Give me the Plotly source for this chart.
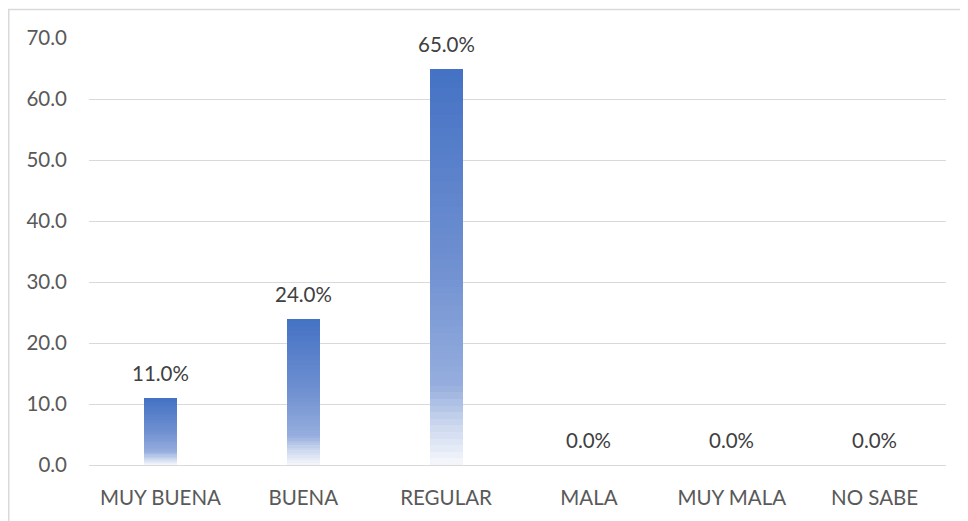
import plotly.graph_objects as go

categories = ["MUY BUENA", "BUENA", "REGULAR", "MALA", "MUY MALA", "NO SABE"]
values = [11.0, 24.0, 65.0, 0.0, 0.0, 0.0]
y_ticks = [0, 10, 20, 30, 40, 50, 60, 70]

# gradient stops (relative height from bottom -> rgb)
stops = [(0.0, (246, 248, 252)), (0.10, (205, 216, 238)), (0.2, (150, 174, 222)),
         (0.5, (112, 144, 209)), (1.0, (68, 114, 196))]

def col(t):
    for (t0, c0), (t1, c1) in zip(stops[:-1], stops[1:]):
        if t0 <= t <= t1:
            f = (t - t0) / (t1 - t0)
            return "rgb(%d,%d,%d)" % tuple(round(a + (b - a) * f) for a, b in zip(c0, c1))
    return "rgb(68,114,196)"

N = 60
fig = go.Figure()
for k in range(N):
    t = (k + 0.5) / N
    fig.add_trace(go.Bar(
        x=categories, y=[v / N for v in values],
        marker=dict(color=col(t), line=dict(width=0)),
        showlegend=False, hoverinfo="skip"))

for c, v in zip(categories, values):
    fig.add_annotation(x=c, y=v, text="%.1f%%" % v, showarrow=False,
                       yshift=25, font=dict(size=20.5, color="#404040"))

FONT = "Lato, Open Sans, sans-serif"
W, H = 968, 521
L, T, R, B = 81, 30, 30, 64
fig.update_layout(
    barmode="stack", bargap=0.77,
    width=W, height=H,
    margin=dict(l=L, r=R, t=T, b=B),
    paper_bgcolor="white", plot_bgcolor="white",
    font=dict(family=FONT, size=18, color="#595959"),
    xaxis=dict(showgrid=False, showline=False, ticks="", ticklabelstandoff=18,
               tickfont=dict(size=20.5, color="#595959")),
    yaxis=dict(range=[0, 70], tickvals=y_ticks, tickformat=".1f",
               showgrid=True, gridcolor="#D9D9D9", gridwidth=1,
               zeroline=True, zerolinecolor="#D9D9D9", zerolinewidth=1,
               showline=False, ticks="", ticklabelstandoff=21,
               tickfont=dict(size=20.5, color="#595959")),
)
pw, ph = W - L - R, H - T - B
fig.add_shape(type="rect", xref="paper", yref="paper",
              x0=(0.75 - L) / pw, x1=(W + 10 - L) / pw,
              y0=-(B + 10) / ph, y1=(ph + T - 1.5) / ph,
              line=dict(color="#D9D9D9", width=1.5), layer="below")

fig.write_html("out.html")
